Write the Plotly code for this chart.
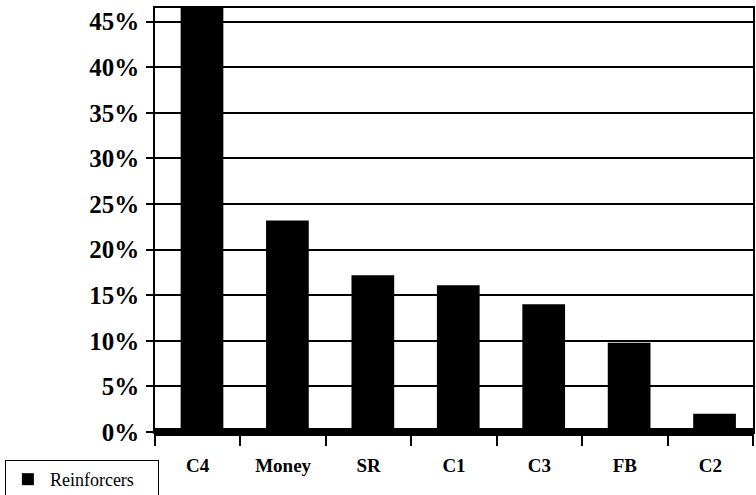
import plotly.graph_objects as go

categories = ["C4", "Money", "SR", "C1", "C3", "FB", "C2"]
reinforcers = [47.0, 23.2, 17.2, 16.1, 14.0, 9.8, 2.0]
y_tick_vals = [0, 5, 10, 15, 20, 25, 30, 35, 40, 45]
y_tick_text = ["0%", "5%", "10%", "15%", "20%", "25%", "30%", "35%", "40%", "45%"]
series_name = "Reinforcers"

SERIF = "Liberation Serif"

fig = go.Figure()
fig.add_trace(go.Bar(
    x=categories, y=reinforcers, name=series_name,
    marker=dict(color="black", line=dict(color="black", width=0)),
    width=0.5, offset=-0.2,
))

fig.update_layout(
    width=756, height=495,
    margin=dict(l=155, r=3, t=8, b=63, autoexpand=False),
    paper_bgcolor="white", plot_bgcolor="white",
    font=dict(family=SERIF, color="black"),
    showlegend=True,
    legend=dict(
        x=-0.251, y=-0.066, xanchor="left", yanchor="top",
        orientation="h",
        bordercolor="black", borderwidth=1, bgcolor="white",
        font=dict(family=SERIF, size=18, color="black"),
        itemwidth=34, itemsizing="constant",
        entrywidth=103, entrywidthmode="pixels",
        tracegroupgap=0,
    ),
    bargap=0.5,
)

fig.update_yaxes(
    range=[0, 46.5], tickvals=y_tick_vals, ticktext=y_tick_text,
    tickfont=dict(family=SERIF, size=25, color="black", weight="bold"),
    showgrid=True, gridcolor="black", gridwidth=1.5,
    showline=True, linecolor="black", linewidth=1.5, mirror=True,
    ticks="outside", ticklen=7, tickcolor="black", tickwidth=1.5,
    zeroline=True, zerolinecolor="black", zerolinewidth=8,
    automargin=False, ticklabelstandoff=2,
)
fig.update_xaxes(
    tickfont=dict(family=SERIF, size=19, color="black", weight="bold"),
    showline=True, linecolor="black", linewidth=1.5, mirror=True,
    ticks="outside", ticklen=12, tickcolor="black", tickwidth=1.5,
    tickson="boundaries", showgrid=False,
    automargin=False, ticklabelstandoff=15,
)

fig.write_html(
    "out.html",
    config={"displayModeBar": False},
    post_script="document.body.style.margin='0';document.body.style.padding='0';",
)
